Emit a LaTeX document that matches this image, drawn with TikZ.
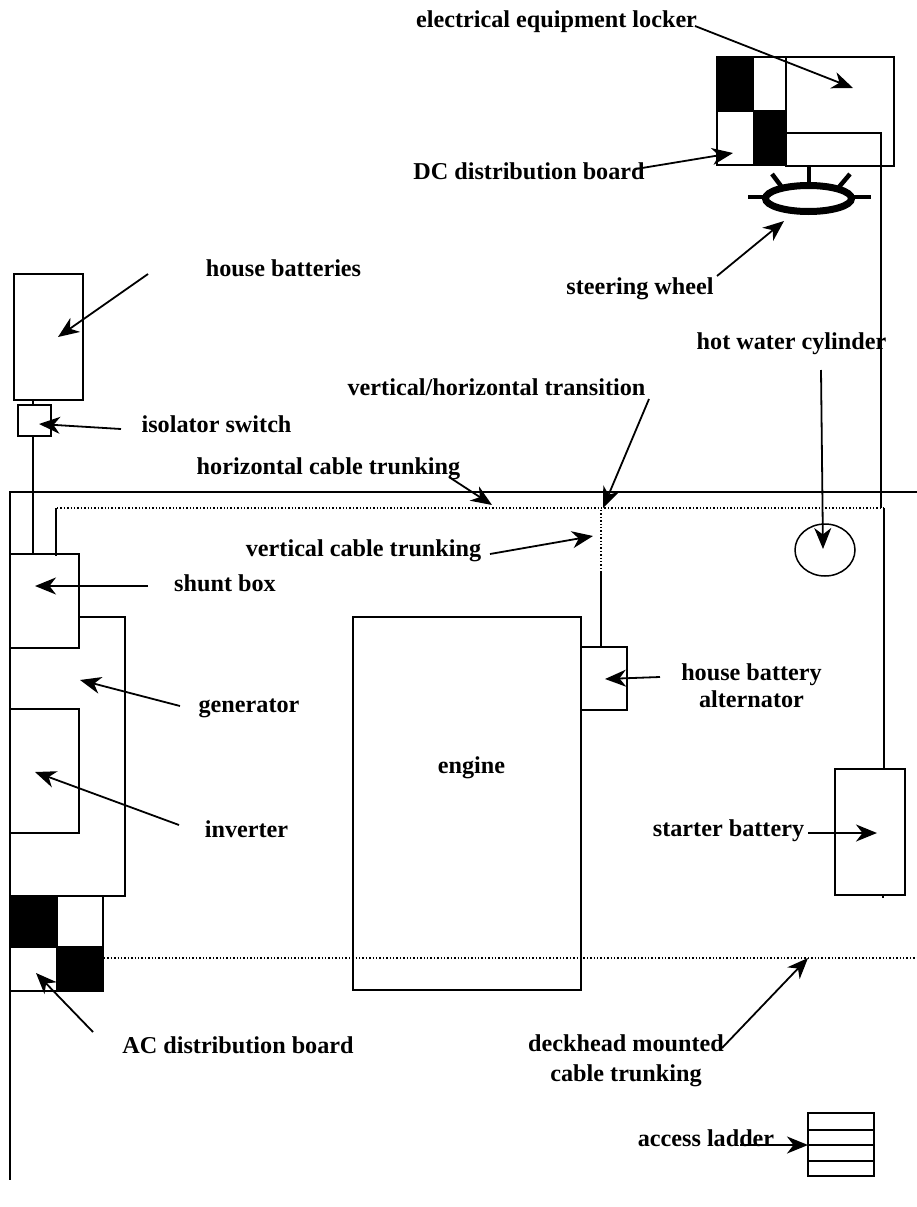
\documentclass[tikz,border=0pt]{standalone}
\usepackage{fontspec}
\setmainfont{Liberation Serif}
\usetikzlibrary{arrows.meta}
\tikzset{
  lbl/.style={font=\fontsize{24.2}{29}\selectfont\bfseries,align=center,inner sep=0pt,text=black},
  lblb/.style={lbl,anchor=base},
  wire/.style={line width=1.5pt,draw=black},
  dots/.style={line width=1.3pt,draw=black,dash pattern=on 1.4pt off 2pt},
  pointer/.style={line width=1.8pt,draw=black,-{Stealth[length=21pt,width=17pt,inset=6.5pt]}},
  spoke/.style={line width=4.5pt,draw=black},
  solidblack/.style={fill=black,draw=black,line width=1pt}
}
\begin{document}
\begin{tikzpicture}[x=1pt,y=-1pt]
\useasboundingbox (0,0) rectangle (917,1207);
% hull and trunking
\draw[wire] (917,492) -- (10,492) -- (10,1180);
\draw[dots] (57,508) -- (884,508);
\draw[dots] (601,510) -- (601,572);
\draw[dots] (104,958) -- (917,958);
\draw[wire] (56,508) -- (56,556);
% equipment boxes
\draw[wire] (14,274) rectangle (83,400);
\draw[wire] (18,405) rectangle (51,436);
\draw[wire] (33,400) -- (33,405);
\draw[wire] (33,436) -- (33,554);
\draw[wire] (10,554) rectangle (79,648);
\draw[wire] (79,617) -- (125,617) -- (125,896) -- (10,896);
\draw[wire] (10,709) -- (79,709) -- (79,833) -- (10,833);
% AC board
\draw[wire] (10,896) rectangle (103,991);
\fill[solidblack] (10,896) rectangle (57,947);
\fill[solidblack] (56,946) rectangle (103,991);
% engine and alternator
\draw[wire] (353,617) rectangle (581,990);
\draw[wire] (581,647) rectangle (627,710);
\draw[wire] (601,572) -- (601,647);
\draw[wire] (825,550) ellipse (30 and 26);
% starter battery
\draw[wire] (835,769) rectangle (905,895);
\draw[wire] (883,895) -- (883,898);
\draw[wire] (884,508) -- (884,769);
\draw[wire] (881,508) -- (881,133) -- (786,133);
% DC board and locker
\draw[wire] (717,57) rectangle (786,165);
\fill[solidblack] (717,57) rectangle (753,111);
\fill[solidblack] (753,110) rectangle (786,165);
\draw[wire] (786,57) rectangle (894,166);
% steering wheel
\draw[line width=7pt] (808.5,198.5) ellipse (43 and 13);
\draw[spoke] (809,167) -- (809,183);
\draw[spoke] (772,174) -- (781,186);
\draw[spoke] (850,174) -- (839,187);
\draw[spoke] (748,197) -- (765,197);
\draw[spoke] (852,197) -- (871,197);
% ladder
\draw[wire] (808,1113) rectangle (874,1176);
\draw[wire] (808,1130) -- (874,1130);
\draw[wire] (808,1145) -- (874,1145);
\draw[wire] (808,1161) -- (874,1161);
% labels
\node[lblb] (lLocker) at (556.5,28) {electrical equipment locker};
\node[lblb] (lDC) at (529,179) {DC distribution board};
\node[lblb] (lWheel) at (640,294) {steering wheel};
\node[lblb] (lBatt) at (283.5,276) {house batteries};
\node[lblb] (lHot) at (791.5,349) {hot water cylinder};
\node[lblb] (lTrans) at (496.5,395) {vertical/horizontal transition};
\node[lblb] (lIso) at (216.5,432) {isolator switch};
\node[lblb] (lHoriz) at (328.5,474) {horizontal cable trunking};
\node[lblb] (lVert) at (363.5,556) {vertical cable trunking};
\node[lblb] (lShunt) at (225,591) {shunt box};
\node[lbl] (lAlt) at (751.5,685.5) {house battery\\[-1.5pt]alternator};
\node[lblb] (lGen) at (249,712) {generator};
\node[lblb] (lEngine) at (471.5,773) {engine};
\node[lblb] (lInv) at (246.5,837) {inverter};
\node[lblb] (lStart) at (728.5,836) {starter battery};
\node[lblb] (lAC) at (238,1053) {AC distribution board};
\node[lbl] (lDeck) at (626,1061) {deckhead mounted\\[1pt]cable trunking};
\node[lblb] (lLadder) at (706,1146) {access ladder};
% pointer ends
\coordinate (a1) at (695,26);   \coordinate (b1) at (853,88);
\coordinate (a2) at (636,169);  \coordinate (b2) at (733,153);
\coordinate (a3) at (717,276);  \coordinate (b3) at (784,221);
\coordinate (a4) at (148,274);  \coordinate (b4) at (58,337);
\coordinate (a5) at (821,370);  \coordinate (b5) at (823,549);
\coordinate (a6) at (649,399);  \coordinate (b6) at (603,508);
\coordinate (a7) at (121,429);  \coordinate (b7) at (39,424);
\coordinate (a8) at (449,477);  \coordinate (b8) at (492,505);
\coordinate (a9) at (490,554);  \coordinate (b9) at (593,536);
\coordinate (a10) at (148,586); \coordinate (b10) at (35,586);
\coordinate (a11) at (660,677); \coordinate (b11) at (605,679);
\coordinate (a12) at (180,706); \coordinate (b12) at (80,680);
\coordinate (a13) at (179,825); \coordinate (b13) at (35,772);
\coordinate (a14) at (808,833); \coordinate (b14) at (877,833);
\coordinate (a15) at (93,1032); \coordinate (b15) at (36,973);
\coordinate (a16) at (722,1048);\coordinate (b16) at (808,958);
\coordinate (a17) at (740,1145);\coordinate (b17) at (808,1145);
\foreach \i in {1,...,17} \draw[pointer] (a\i) -- (b\i);
\end{tikzpicture}
\end{document}
